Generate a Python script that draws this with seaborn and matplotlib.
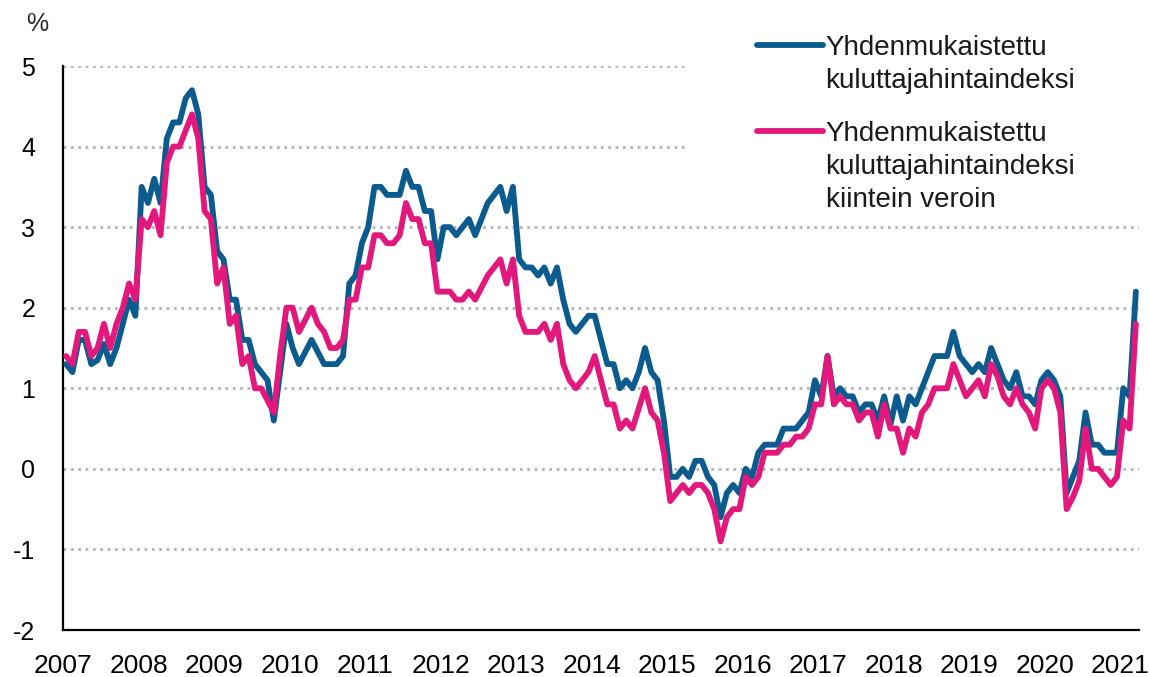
import numpy as np
import pandas as pd
import matplotlib
matplotlib.use("Agg")
import matplotlib.pyplot as plt
from matplotlib.lines import Line2D
from matplotlib.patches import Rectangle
import seaborn as sns

# Monthly annual change (%), Jan 2007 - Mar 2021
hicp = [
    1.3, 1.2, 1.6, 1.6, 1.3, 1.35, 1.55, 1.3, 1.5, 1.8, 2.1, 1.9,      # 2007
    3.5, 3.3, 3.6, 3.3, 4.1, 4.3, 4.3, 4.6, 4.7, 4.4, 3.5, 3.4,        # 2008
    2.7, 2.6, 2.1, 2.1, 1.6, 1.6, 1.3, 1.2, 1.1, 0.6, 1.2, 1.8,        # 2009
    1.5, 1.3, 1.45, 1.6, 1.45, 1.3, 1.3, 1.3, 1.4, 2.3, 2.4, 2.8,      # 2010
    3.0, 3.5, 3.5, 3.4, 3.4, 3.4, 3.7, 3.5, 3.5, 3.2, 3.2, 2.6,        # 2011
    3.0, 3.0, 2.9, 3.0, 3.1, 2.9, 3.1, 3.3, 3.4, 3.5, 3.2, 3.5,        # 2012
    2.6, 2.5, 2.5, 2.4, 2.5, 2.3, 2.5, 2.1, 1.8, 1.7, 1.8, 1.9,        # 2013
    1.9, 1.6, 1.3, 1.3, 1.0, 1.1, 1.0, 1.2, 1.5, 1.2, 1.1, 0.6,        # 2014
    -0.1, -0.1, 0.0, -0.1, 0.1, 0.1, -0.1, -0.2, -0.6, -0.3, -0.2, -0.3,  # 2015
    0.0, -0.1, 0.2, 0.3, 0.3, 0.3, 0.5, 0.5, 0.5, 0.6, 0.7, 1.1,       # 2016
    0.9, 1.4, 0.9, 1.0, 0.9, 0.9, 0.7, 0.8, 0.8, 0.6, 0.9, 0.55,       # 2017
    0.9, 0.6, 0.9, 0.8, 1.0, 1.2, 1.4, 1.4, 1.4, 1.7, 1.4, 1.3,        # 2018
    1.2, 1.3, 1.2, 1.5, 1.3, 1.1, 1.0, 1.2, 0.9, 0.9, 0.8, 1.1,        # 2019
    1.2, 1.1, 0.9, -0.3, -0.1, 0.1, 0.7, 0.3, 0.3, 0.2, 0.2, 0.2,      # 2020
    1.0, 0.9, 2.2,                                                     # 2021
]
hicp_ct = [
    1.4, 1.3, 1.7, 1.7, 1.4, 1.5, 1.8, 1.5, 1.8, 2.0, 2.3, 2.1,        # 2007
    3.1, 3.0, 3.2, 2.9, 3.8, 4.0, 4.0, 4.2, 4.4, 4.1, 3.2, 3.1,        # 2008
    2.3, 2.5, 1.8, 1.9, 1.3, 1.4, 1.0, 1.0, 0.85, 0.7, 1.4, 2.0,       # 2009
    2.0, 1.7, 1.85, 2.0, 1.8, 1.7, 1.5, 1.5, 1.6, 2.1, 2.1, 2.5,       # 2010
    2.5, 2.9, 2.9, 2.8, 2.8, 2.9, 3.3, 3.1, 3.1, 2.8, 2.8, 2.2,        # 2011
    2.2, 2.2, 2.1, 2.1, 2.2, 2.1, 2.25, 2.4, 2.5, 2.6, 2.3, 2.6,       # 2012
    1.9, 1.7, 1.7, 1.7, 1.8, 1.6, 1.8, 1.3, 1.1, 1.0, 1.1, 1.2,        # 2013
    1.4, 1.1, 0.8, 0.8, 0.5, 0.6, 0.5, 0.75, 1.0, 0.7, 0.6, 0.2,       # 2014
    -0.4, -0.3, -0.2, -0.3, -0.2, -0.2, -0.3, -0.5, -0.9, -0.6, -0.5, -0.5,  # 2015
    -0.1, -0.2, -0.1, 0.2, 0.2, 0.2, 0.3, 0.3, 0.4, 0.4, 0.5, 0.8,     # 2016
    0.8, 1.4, 0.8, 0.9, 0.8, 0.8, 0.6, 0.7, 0.7, 0.4, 0.8, 0.5,        # 2017
    0.5, 0.2, 0.5, 0.4, 0.7, 0.8, 1.0, 1.0, 1.0, 1.3, 1.1, 0.9,        # 2018
    1.0, 1.1, 0.9, 1.3, 1.15, 0.9, 0.8, 1.0, 0.8, 0.7, 0.5, 1.0,       # 2019
    1.1, 1.0, 0.7, -0.5, -0.35, -0.15, 0.5, 0.0, 0.0, -0.1, -0.2, -0.1,  # 2020
    0.6, 0.5, 1.8,                                                     # 2021
]
years = list(range(2007, 2022))
y_ticks = [-2, -1, 0, 1, 2, 3, 4, 5]

name1 = "Yhdenmukaistettu\nkuluttajahintaindeksi"
name2 = "Yhdenmukaistettu\nkuluttajahintaindeksi\nkiintein veroin"
colors = {name1: "#0b5b8e", name2: "#e2187c"}

# points sit in the middle of each month
t = 2007 + (np.arange(len(hicp)) + 0.5) / 12
df = pd.concat([
    pd.DataFrame({"t": t, "value": hicp, "series": name1}),
    pd.DataFrame({"t": t, "value": hicp_ct, "series": name2}),
])

sns.set_theme(style="white")
plt.rcParams["font.family"] = ["Liberation Sans", "DejaVu Sans"]

fig = plt.figure(figsize=(11.49, 6.77), dpi=100)
ax = fig.add_axes([63 / 1149, 47 / 677, 1076 / 1149, 564 / 677])

sns.lineplot(data=df, x="t", y="value", hue="series", palette=colors,
             linewidth=4.2, legend=False, ax=ax, zorder=3,
             solid_capstyle="round", solid_joinstyle="round")

ax.set_xlim(2007, 2021.25)
ax.set_ylim(-2, 5)
ax.set_xticks(years)
ax.set_xticklabels([str(y) for y in years], fontsize=19)
ax.set_yticks(y_ticks)
ax.set_yticklabels([str(v) for v in y_ticks], fontsize=18)
ax.set_xlabel("")
ax.set_ylabel("")

ax.set_axisbelow(True)
ax.yaxis.grid(True, color="#b4b4b4", linestyle=":", linewidth=2)
ax.xaxis.grid(False)

for side in ["top", "right"]:
    ax.spines[side].set_visible(False)
for side in ["left", "bottom"]:
    ax.spines[side].set_color("black")
    ax.spines[side].set_linewidth(1.6)
ax.tick_params(axis="y", direction="out", length=6, width=1.6, colors="black", pad=14)
ax.tick_params(axis="x", direction="out", length=6, width=1.6, colors="black", pad=11)

# legend area covers the upper gridlines
ax.add_patch(Rectangle((0.581, 0.72), 0.5, 0.32, transform=ax.transAxes,
                       facecolor="white", edgecolor="none", zorder=1, clip_on=False))

blank = Line2D([], [], color="none")
leg_kw = dict(loc="upper left", frameon=False, fontsize=20, handlelength=2.37,
              handletextpad=0.1, borderpad=0, borderaxespad=0, labelspacing=0.25)
leg1 = fig.legend([Line2D([], [], color=colors[name1], lw=4.2, solid_capstyle="round"), blank],
                  name1.split("\n"), bbox_to_anchor=(757 / 1149, 1 - 35 / 677), **leg_kw)
leg2 = fig.legend([Line2D([], [], color=colors[name2], lw=4.2, solid_capstyle="round"), blank, blank],
                  name2.split("\n"), bbox_to_anchor=(757 / 1149, 1 - 121 / 677), **leg_kw)
for leg in (leg1, leg2):
    for txt in leg.get_texts():
        txt.set_color("#1a1a1a")

fig.text(37 / 1149, 1 - 24 / 677, "%", ha="center", va="center", fontsize=18)

fig.savefig("out.png", dpi=100)
